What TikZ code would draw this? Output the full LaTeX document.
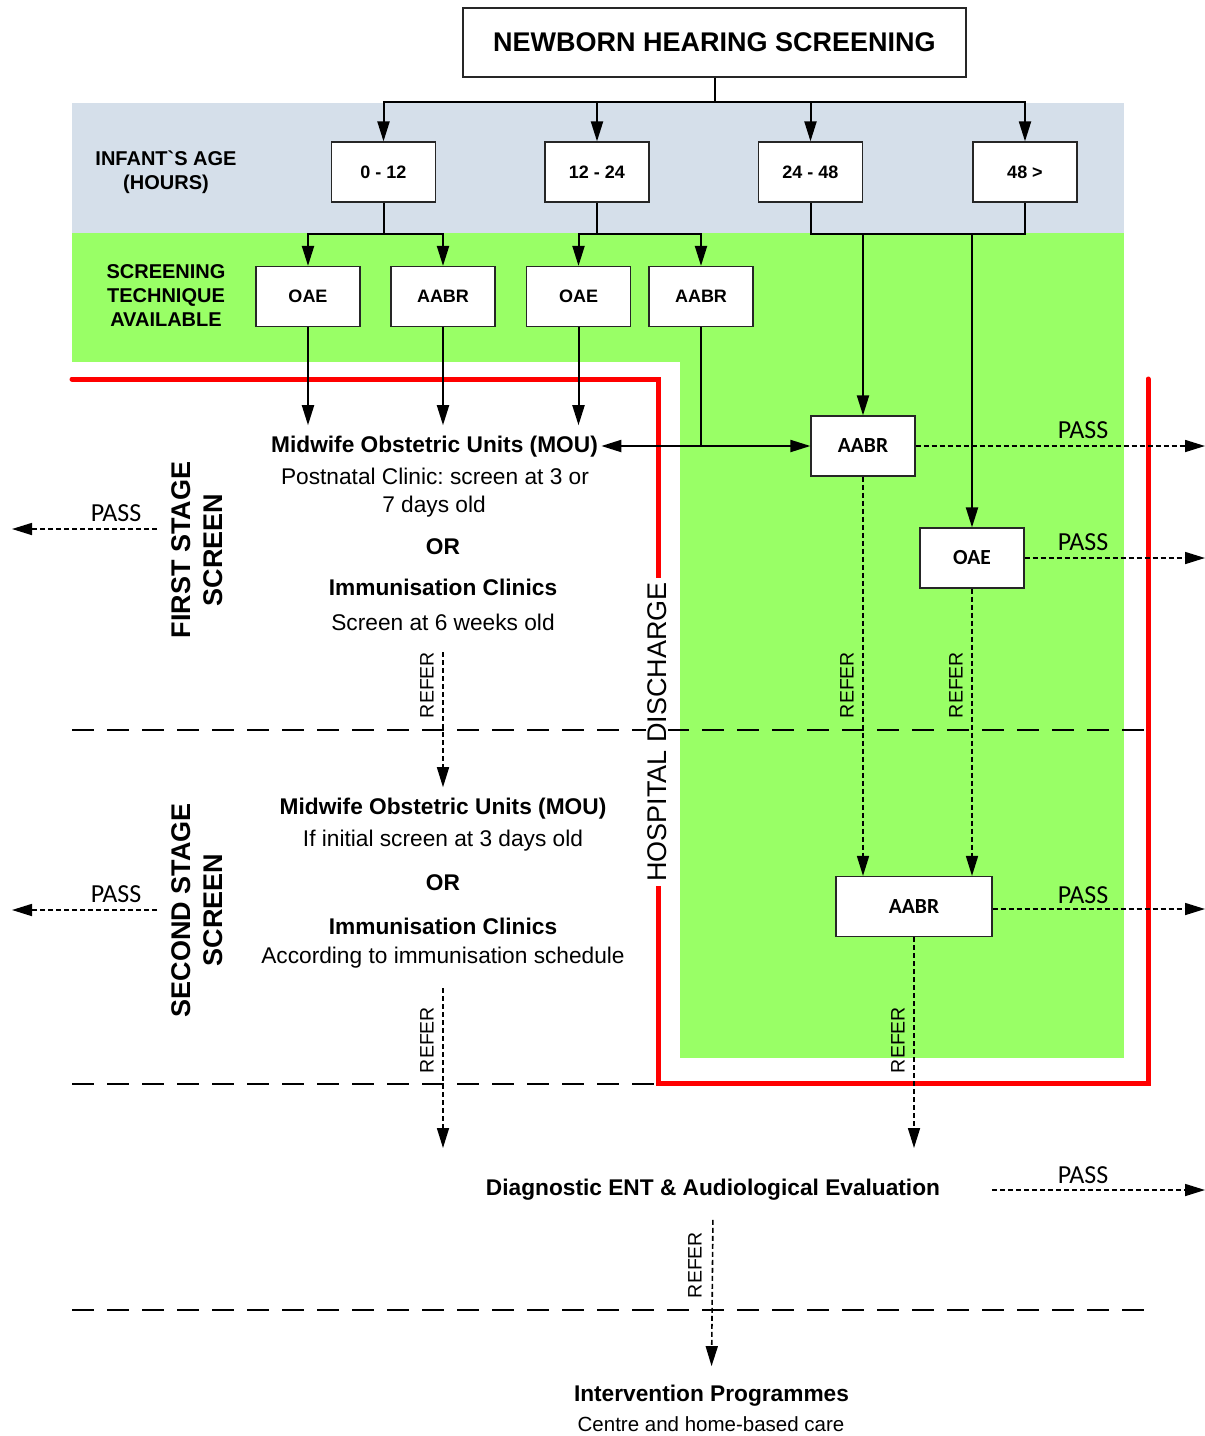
\documentclass[tikz,border=0pt]{standalone}
\usepackage{fontspec}
\setmainfont{Liberation Sans}
\newfontfamily\passfont{Carlito}
\usetikzlibrary{arrows.meta}
\frenchspacing

\definecolor{AgeBand}{HTML}{D5DFEA}
\definecolor{TechGreen}{HTML}{99FF66}
\definecolor{DischargeRed}{HTML}{FF0000}

\tikzset{
  box/.style={draw=black!85, line width=1.2pt, fill=white,
    minimum width=104pt, minimum height=60pt,
    font=\fontsize{18}{21}\selectfont\bfseries},
  hbox/.style={box, font=\passfont\bfseries\fontsize{21.5}{25}\selectfont},
  lbl/.style={align=center, font=\fontsize{20}{24}\selectfont\bfseries},
  body/.style={inner ysep=11pt, font=\fontsize{22.7}{27}\selectfont},
  head/.style={body, font=\fontsize{22.7}{27}\selectfont\bfseries},
  stage/.style={rotate=90, align=center, font=\fontsize{27}{32}\selectfont\bfseries},
  dischargelbl/.style={rotate=90, fill=white, inner xsep=4pt, inner ysep=1pt,
    font=\fontsize{27}{32}\selectfont},
  pass/.style={font=\passfont\fontsize{26}{30}\selectfont},
  refer/.style={rotate=90, font=\fontsize{19.5}{23}\selectfont},
  wire/.style={line width=2pt},
  conn/.style={wire, -{Triangle[length=20pt,width=12pt]}},
  flow/.style={line width=1.6pt, dash pattern=on 5pt off 3pt,
    -{Triangle[length=20pt,width=12pt]}},
  sep/.style={line width=1.6pt, dash pattern=on 22pt off 13pt},
  discharge/.style={line width=5pt, DischargeRed, line cap=round},
}

\begin{document}
\begin{tikzpicture}[x=1pt,y=-1pt]
  \useasboundingbox (0,0) rectangle (1205,1436);

  % Bands
  \fill[AgeBand] (72,103) rectangle (1124,233);
  \fill[TechGreen] (72,233) rectangle (1124,362);
  \fill[TechGreen] (680,362) rectangle (1124,1058);

  % Hospital discharge border
  \draw[discharge] (72,379) -- (658,379) -- (658,1083) -- (1148,1083) -- (1148,379);

  % Stage separators
  \draw[sep] (72,730) -- (1148,730);
  \draw[sep] (72,1084) -- (658,1084);
  \draw[sep] (72,1310) -- (1148,1310);

  % Header
  \node[box, minimum width=503pt, minimum height=69pt,
    font=\fontsize{27}{32}\selectfont\bfseries] (title) at (714.5,42.5)
    {NEWBORN HEARING SCREENING};

  % Infant's age
  \node[lbl] (ageLbl) at (166,172) {INFANT\textasciigrave S AGE\\(HOURS)};
  \node[box] (age1) at (383.5,172) {0 - 12};
  \node[box] (age2) at (597,172) {12 - 24};
  \node[box] (age3) at (810.5,172) {24 - 48};
  \node[box] (age4) at (1025,172) {48 >};

  % Screening technique
  \node[lbl] (techLbl) at (166,296) {SCREENING\\TECHNIQUE\\AVAILABLE};
  \node[box] (scr1) at (308,296.5) {OAE};
  \node[box] (scr2) at (443,296.5) {AABR};
  \node[box] (scr3) at (578.5,296.5) {OAE};
  \node[box] (scr4) at (701,296.5) {AABR};

  % In-hospital screens
  \node[hbox] (hAABR) at (863,446) {AABR};
  \node[hbox] (hOAE) at (972,558) {OAE};
  \node[hbox, minimum width=156pt] (hAABR2) at (914,906.5) {AABR};

  % First stage (community)
  \node[head] (mouA) at (434.5,447) {Midwife Obstetric Units (MOU)};
  \node[body] (mouA1) at (435,476) {Postnatal Clinic: screen at 3 or};
  \node[body] (mouA2) at (434,507) {7 days old};
  \node[head] (orA) at (443,547) {OR};
  \node[head] (immA) at (443,587) {Immunisation Clinics};
  \node[body] (immA1) at (443,622) {Screen at 6 weeks old};

  % Second stage (community)
  \node[head] (mouB) at (443,809) {Midwife Obstetric Units (MOU)};
  \node[body] (mouB1) at (443,841) {If initial screen at 3 days old};
  \node[head] (orB) at (443,883) {OR};
  \node[head] (immB) at (443,926) {Immunisation Clinics};
  \node[body] (immB1) at (443,958) {According to immunisation schedule};

  % Diagnosis and intervention
  \node[head] (diag) at (713,1190) {Diagnostic ENT \& Audiological Evaluation};
  \node[head] (interv) at (711.5,1396) {Intervention Programmes};
  \node[body, font=\fontsize{20.5}{24}\selectfont] (interv1) at (711,1424)
    {Centre and home-based care};

  % Side labels
  \node[stage] (stage1) at (197,550) {FIRST STAGE\\SCREEN};
  \node[stage] (stage2) at (197,910) {SECOND STAGE\\SCREEN};
  \node[dischargelbl] (disch) at (657,732) {HOSPITAL DISCHARGE};

  % Free ends
  \coordinate (passL1s) at (157,529);
  \coordinate (passL1e) at (12,529);
  \coordinate (passL2s) at (157,910);
  \coordinate (passL2e) at (12,910);
  \coordinate (passR1) at (1205,446);
  \coordinate (passR2) at (1205,558);
  \coordinate (passR3) at (1205,909);
  \coordinate (passDs) at (992,1190);
  \coordinate (passDe) at (1205,1190);
  \coordinate (referA) at (443,652);
  \coordinate (referB) at (443,988);
  \coordinate (referBe) at (443,1148);
  \coordinate (referCe) at (914,1148);

  % Age connectors
  \draw[wire] (title.south) -- ++(0,24) coordinate (jTop);
  \foreach \a in {age1,age2,age3,age4}
    \draw[conn] (jTop) -| (\a.north);

  % Technique connectors
  \draw[wire] (age1.south) -- ++(0,31) coordinate (jA);
  \draw[conn] (jA) -| (scr1.north);
  \draw[conn] (jA) -| (scr2.north);
  \draw[wire] (age2.south) -- ++(0,31) coordinate (jB);
  \draw[conn] (jB) -| (scr3.north);
  \draw[conn] (jB) -| (scr4.north);
  \draw[wire] (age3.south) -- ++(0,31) coordinate (jC) -| (age4.south);
  \draw[conn] (jC -| hAABR.north) -- (hAABR.north);
  \draw[conn] (jC -| hOAE.north) -- (hOAE.north);

  % To MOU / in-hospital AABR
  \foreach \s in {scr1,scr2,scr3}
    \draw[conn] (\s.south) -- (\s.south |- mouA.north);
  \draw[wire] (scr4.south) -- (scr4.south |- hAABR.west) coordinate (jD);
  \draw[conn] (jD) -- (hAABR.west);
  \draw[conn] (jD) -- (jD -| mouA.east);

  % Pass / refer flows
  \draw[flow] (hAABR.east) -- (passR1);
  \draw[flow] (hOAE.east) -- (passR2);
  \draw[flow] (hAABR2.east |- passR3) -- (passR3);
  \draw[flow] (passDs) -- (passDe);
  \draw[flow] (passL1s) -- (passL1e);
  \draw[flow] (passL2s) -- (passL2e);
  \draw[flow] (hAABR.south) -- (hAABR.south |- hAABR2.north);
  \draw[flow] (hOAE.south) -- (hOAE.south |- hAABR2.north);
  \draw[flow] (hAABR2.south) -- (referCe);
  \draw[flow] (referA) -- (mouB.north);
  \draw[flow] (referB) -- (referBe);
  \draw[flow, shorten <=8pt, shorten >=8pt] (diag.south) -- (interv.north);

  \node[pass] (passL1) at (116,513) {PASS};
  \node[pass] (passL2) at (116,894) {PASS};
  \node[pass] (passT1) at (1083,430) {PASS};
  \node[pass] (passT2) at (1083,542) {PASS};
  \node[pass] (passT3) at (1083,895) {PASS};
  \node[pass] (passT4) at (1083,1175) {PASS};

  \node[refer] (refer1) at (427,685) {REFER};
  \node[refer] (refer2) at (427,1040) {REFER};
  \node[refer] (refer3) at (847,685) {REFER};
  \node[refer] (refer4) at (956,685) {REFER};
  \node[refer] (refer5) at (898,1040) {REFER};
  \node[refer] (refer6) at (695,1265) {REFER};
\end{tikzpicture}
\end{document}
